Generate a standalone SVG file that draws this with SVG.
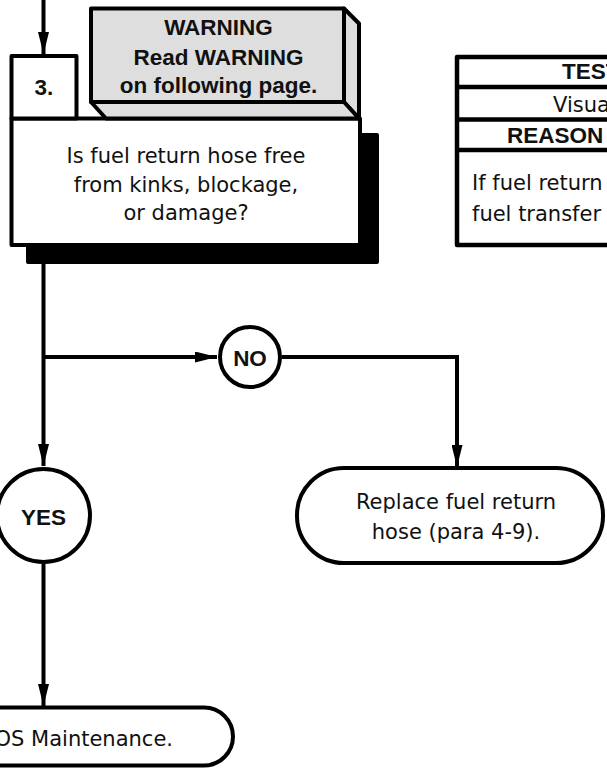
<svg xmlns="http://www.w3.org/2000/svg" width="607" height="768" viewBox="0 0 607 768">
<defs>
<marker id="arr" viewBox="0 0 22 11" refX="22" refY="5.5" markerWidth="22" markerHeight="11" markerUnits="userSpaceOnUse" orient="auto">
<path d="M0,0 L22,5.5 L0,11 Z" fill="#000"/>
</marker>
<style>
.ln{fill:none;stroke:#000;stroke-width:4;}
.box{fill:#fff;stroke:#000;stroke-width:4;stroke-linejoin:round;}
.gray{fill:#dedede;stroke:#000;stroke-width:4;stroke-linejoin:round;}
.t{font-family:"DejaVu Sans",Verdana,sans-serif;font-size:21px;fill:#111;}
.b{font-family:"Liberation Sans",Arial,sans-serif;font-size:22.5px;font-weight:bold;fill:#111;}
.c{text-anchor:middle;}
</style>
</defs>
<rect width="607" height="768" fill="#fff"/>
<g id="connectors">
<path class="ln" d="M43.5,0 V54" marker-end="url(#arr)"/>
<path class="ln" d="M43.5,264 V466" marker-end="url(#arr)"/>
<path class="ln" d="M43.5,357 H217" marker-end="url(#arr)"/>
<path class="ln" d="M282,357 H457 V467" marker-end="url(#arr)"/>
<path class="ln" d="M43.5,564 V706" marker-end="url(#arr)"/>
</g>
<g id="step3">
<rect x="26" y="133" width="353" height="131" rx="2" fill="#000"/>
<rect class="box" x="11.5" y="118.5" width="348.5" height="126.5"/>
<rect class="box" x="11.5" y="56" width="65" height="62.5"/>
<text class="b c" x="44" y="95">3.</text>
<text class="t c" x="186" y="163">Is fuel return hose free</text>
<text class="t c" x="186" y="192">from kinks, blockage,</text>
<text class="t c" x="186" y="220">or damage?</text>
</g>
<g id="warning">
<polygon class="gray" points="344,8.5 359,23.5 359,118.5 344,102"/>
<polygon class="gray" points="91,102 106,118.5 359,118.5 344,102"/>
<rect class="gray" x="91" y="8.5" width="253" height="93.5"/>
<text class="b c" x="218.5" y="35">WARNING</text>
<text class="b c" x="218.5" y="64.5">Read WARNING</text>
<text class="b c" x="218.5" y="93">on following page.</text>
</g>
<g id="table">
<rect x="457" y="57" width="220" height="188" fill="#fff" stroke="#000" stroke-width="4.5" stroke-linejoin="round"/>
<line x1="457" y1="87" x2="620" y2="87" stroke="#000" stroke-width="4.5"/>
<line x1="457" y1="119.5" x2="620" y2="119.5" stroke="#000" stroke-width="4.5"/>
<line x1="457" y1="150" x2="620" y2="150" stroke="#000" stroke-width="4.5"/>
<text class="b" x="562" y="79">TEST</text>
<text class="t" x="553" y="112">Visua</text>
<text class="b" x="507" y="143">REASON</text>
<text class="t" x="472" y="190">If fuel return</text>
<text class="t" x="472" y="221">fuel transfer</text>
</g>
<g id="no">
<circle class="box" cx="250" cy="357" r="30"/>
<text class="b c" x="250" y="365.5">NO</text>
</g>
<g id="yes">
<circle class="box" cx="43.5" cy="515.5" r="46.5"/>
<text class="b c" x="43.5" y="525">YES</text>
</g>
<g id="replace">
<rect class="box" x="297" y="468" width="306" height="95" rx="47" ry="47"/>
<text class="t c" x="456" y="509">Replace fuel return</text>
<text class="t c" x="456" y="539">hose (para 4-9).</text>
</g>
<g id="maintenance">
<rect class="box" x="-200" y="707.5" width="433" height="58" rx="29" ry="29"/>
<text class="t" x="173" y="746" text-anchor="end">OS Maintenance.</text>
</g>
</svg>
